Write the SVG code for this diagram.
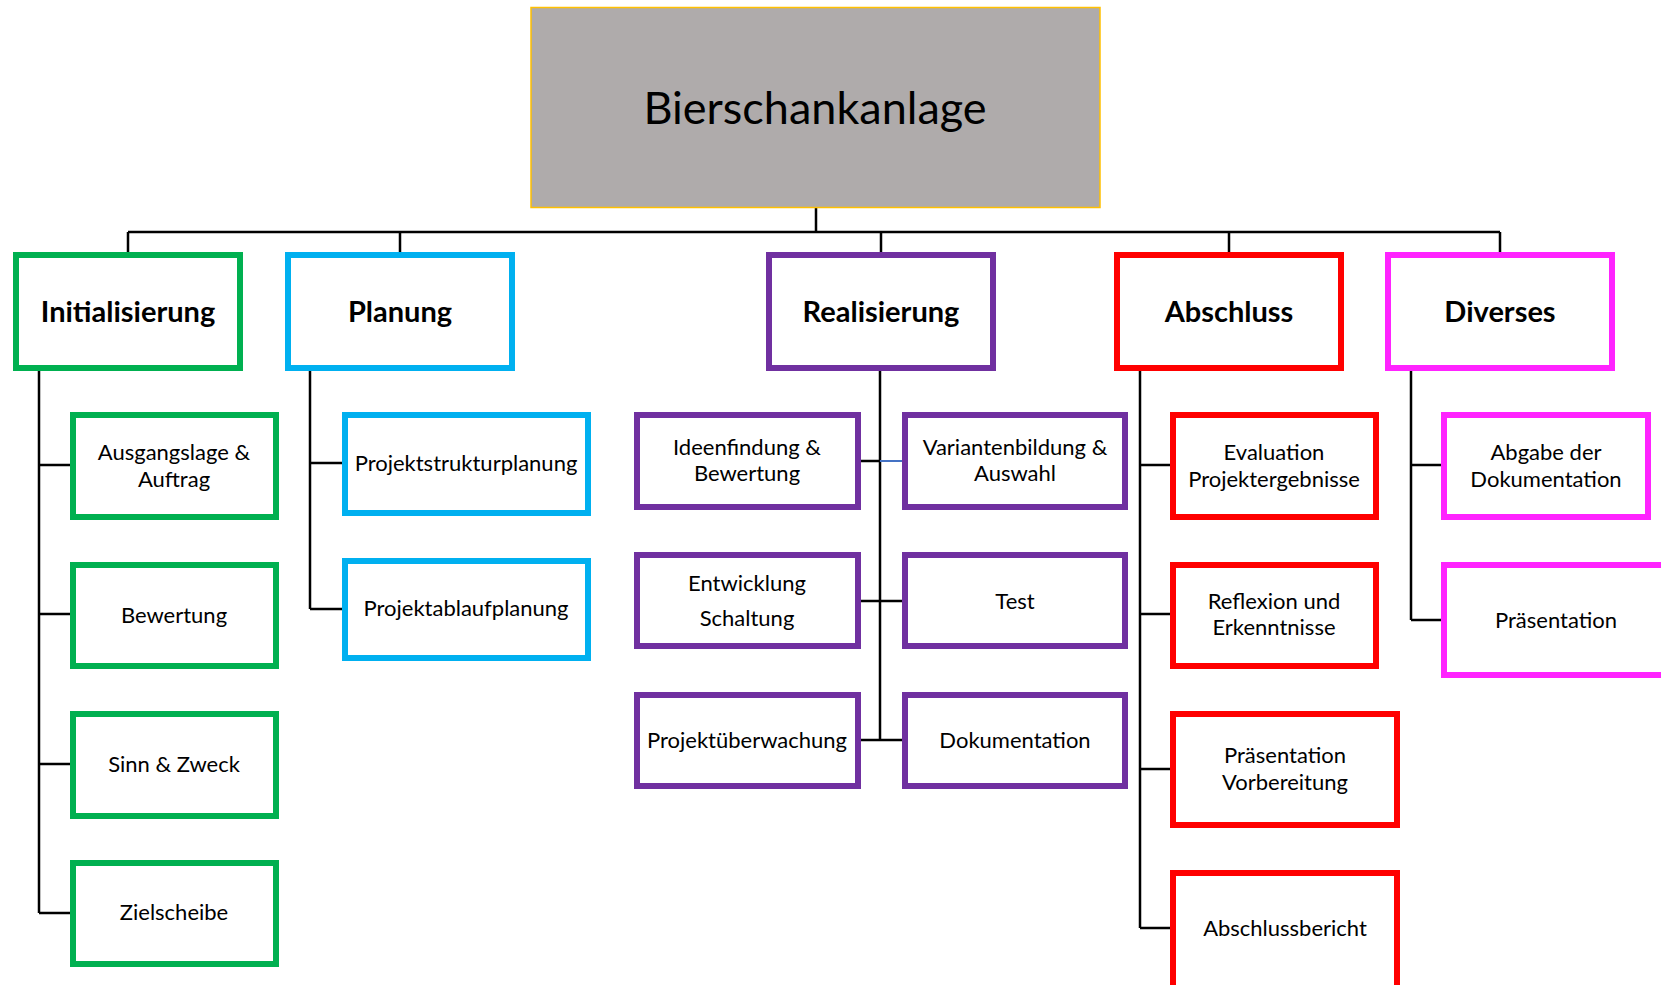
<svg xmlns="http://www.w3.org/2000/svg" width="1661" height="985" viewBox="0 0 1661 985">
<style>
.bg{fill:#ffffff}
.box{fill:#ffffff;stroke-width:6}
.g{stroke:#00B050}.b{stroke:#00B0F0}.p{stroke:#7030A0}.r{stroke:#FF0000}.m{stroke:#FF23FF}
.t{font-family:Lato,"Open Sans",sans-serif;font-size:22px;fill:#000;text-anchor:middle;dominant-baseline:central}
.h{font-family:Lato,"Open Sans",sans-serif;font-size:29px;font-weight:bold;fill:#000;text-anchor:middle;dominant-baseline:central}
.c{stroke:#000;stroke-width:2.5;fill:none}
</style>
<rect class="bg" x="0" y="0" width="1661" height="985"/>
<g id="connectors">
<path class="c" d="M816 208V232M128 232H1500M128 232V252M400 232V252M881 232V252M1229 232V252M1500 232V252"/>
<path class="c" d="M39 371V913M39 465H70M39 614H70M39 764H70M39 913H70"/>
<path class="c" d="M310 371V609M310 463H342M310 609H342"/>
<path class="c" d="M880 371V740M861 461H880M861 601H902M861 740H902"/>
<path d="M880 461H902" stroke="#4472C4" stroke-width="2" fill="none"/>
<path class="c" d="M1140 371V928M1140 465H1170M1140 614H1170M1140 769H1170M1140 928H1170"/>
<path class="c" d="M1411 371V620M1411 465H1441M1411 620H1441"/>
</g>
<g id="root">
<rect x="531" y="7.5" width="569" height="200" fill="#AFABAB" stroke="#FFC000" stroke-width="1.5"/>
<text x="815" y="107" font-family="Lato,'Open Sans',sans-serif" font-size="45" text-anchor="middle" dominant-baseline="central" fill="#000">Bierschankanlage</text>
</g>
<g id="initialisierung"><rect class="box g" x="16" y="255" width="224" height="113"/><text class="h" x="128" y="310">Initialisierung</text></g>
<g id="planung"><rect class="box b" x="288" y="255" width="224" height="113"/><text class="h" x="400" y="310">Planung</text></g>
<g id="realisierung"><rect class="box p" x="769" y="255" width="224" height="113"/><text class="h" x="881" y="310">Realisierung</text></g>
<g id="abschluss"><rect class="box r" x="1117" y="255" width="224" height="113"/><text class="h" x="1229" y="310">Abschluss</text></g>
<g id="diverses"><rect class="box m" x="1388" y="255" width="224" height="113"/><text class="h" x="1500" y="310">Diverses</text></g>

<g id="ausgangslage"><rect class="box g" x="73" y="415" width="203" height="102"/><text class="t" x="174" y="451">Ausgangslage &amp;</text><text class="t" x="174" y="478">Auftrag</text></g>
<g id="bewertung"><rect class="box g" x="73" y="565" width="203" height="101"/><text class="t" x="174" y="614">Bewertung</text></g>
<g id="sinn"><rect class="box g" x="73" y="714" width="203" height="102"/><text class="t" x="174" y="763">Sinn &amp; Zweck</text></g>
<g id="zielscheibe"><rect class="box g" x="73" y="863" width="203" height="101"/><text class="t" x="174" y="911">Zielscheibe</text></g>

<g id="psp"><rect class="box b" x="345" y="415" width="243" height="98"/><text class="t" x="466" y="462">Projektstrukturplanung</text></g>
<g id="pap"><rect class="box b" x="345" y="561" width="243" height="97"/><text class="t" x="466" y="607">Projektablaufplanung</text></g>

<g id="ideenfindung"><rect class="box p" x="637" y="415" width="221" height="92"/><text class="t" x="747" y="446">Ideenfindung &amp;</text><text class="t" x="747" y="472">Bewertung</text></g>
<g id="variantenbildung"><rect class="box p" x="905" y="415" width="220" height="92"/><text class="t" x="1015" y="446">Variantenbildung &amp;</text><text class="t" x="1015" y="472">Auswahl</text></g>
<g id="entwicklung"><rect class="box p" x="637" y="555" width="221" height="91"/><text class="t" x="747" y="582">Entwicklung</text><text class="t" x="747" y="617">Schaltung</text></g>
<g id="test"><rect class="box p" x="905" y="555" width="220" height="91"/><text class="t" x="1015" y="600">Test</text></g>
<g id="projektueberwachung"><rect class="box p" x="637" y="695" width="221" height="91"/><text class="t" x="747" y="739">Projektüberwachung</text></g>
<g id="dokumentation"><rect class="box p" x="905" y="695" width="220" height="91"/><text class="t" x="1015" y="739">Dokumentation</text></g>

<g id="evaluation"><rect class="box r" x="1173" y="415" width="203" height="102"/><text class="t" x="1274" y="451">Evaluation</text><text class="t" x="1274" y="478">Projektergebnisse</text></g>
<g id="reflexion"><rect class="box r" x="1173" y="565" width="203" height="101"/><text class="t" x="1274" y="600">Reflexion und</text><text class="t" x="1274" y="626">Erkenntnisse</text></g>
<g id="praesentation-vorbereitung"><rect class="box r" x="1173" y="714" width="224" height="111"/><text class="t" x="1285" y="754">Präsentation</text><text class="t" x="1285" y="781">Vorbereitung</text></g>
<g id="abschlussbericht"><rect class="box r" x="1173" y="873" width="224" height="120"/><text class="t" x="1285" y="927">Abschlussbericht</text></g>

<g id="abgabe"><rect class="box m" x="1444" y="415" width="204" height="102"/><text class="t" x="1546" y="451">Abgabe der</text><text class="t" x="1546" y="478">Dokumentation</text></g>
<g id="praesentation"><rect class="box m" x="1444" y="565" width="240" height="110"/><text class="t" x="1556" y="619">Präsentation</text></g>
</svg>
